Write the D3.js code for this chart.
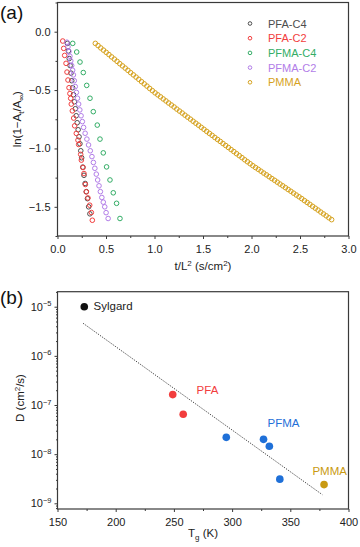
<!DOCTYPE html>
<html>
<head>
<meta charset="utf-8">
<script src="https://cdn.jsdelivr.net/npm/d3@7/dist/d3.min.js"></script>
<style>
  body { margin: 0; background: #fff; }
  svg text { font-family: "Liberation Sans", Arial, sans-serif; }
</style>
</head>
<body>
<svg id="chart" width="360" height="547"></svg>
<script>
// ---- panel (a) data: ln(1 - At/Ainf) vs t/L^2 ----
var pfaC4T = [0.102,0.112,0.121,0.130,0.139,0.147,0.156,0.165,0.175,0.184,0.193,0.203,0.213,0.222,0.231,0.240,0.249,0.261,0.273,0.285,0.297,0.309,0.321,0.334];
var pfaC4Y = [-0.10,-0.165,-0.23,-0.29,-0.355,-0.42,-0.48,-0.54,-0.60,-0.66,-0.72,-0.78,-0.84,-0.90,-0.96,-1.02,-1.08,-1.16,-1.23,-1.30,-1.37,-1.43,-1.50,-1.56];

var pfaC2T = [0.054,0.064,0.074,0.088,0.098,0.108,0.119,0.128,0.136,0.142,0.153,0.167,0.177,0.194,0.211,0.218,0.239,0.246,0.263,0.273,0.287,0.297,0.314,0.332,0.349,0.359];
var pfaC2Y = [-0.08,-0.143,-0.203,-0.271,-0.346,-0.414,-0.48,-0.53,-0.571,-0.62,-0.678,-0.74,-0.806,-0.871,-0.929,-0.966,-1.051,-1.10,-1.163,-1.215,-1.309,-1.372,-1.424,-1.486,-1.549,-1.615];

var pfmaC4T = [0.157,0.198,0.232,0.266,0.301,0.335,0.369,0.410,0.438,0.472,0.506,0.541,0.575,0.609,0.644];
var pfmaC4Y = [-0.10,-0.174,-0.26,-0.35,-0.46,-0.57,-0.685,-0.80,-0.92,-1.038,-1.158,-1.27,-1.38,-1.47,-1.60];

var pfmaC2T = [0.097,0.108,0.118,0.128,0.137,0.146,0.156,0.164,0.173,0.183,0.195,0.206,0.218,0.230,0.243,0.256,0.269,0.285,0.303,0.320,0.338,0.355,0.370,0.385,0.400,0.414,0.428,0.442,0.457,0.472,0.487,0.501,0.522];
var pfmaC2Y = [-0.09,-0.13,-0.17,-0.21,-0.25,-0.29,-0.33,-0.37,-0.42,-0.47,-0.52,-0.57,-0.62,-0.67,-0.72,-0.77,-0.82,-0.87,-0.92,-0.97,-1.02,-1.07,-1.12,-1.17,-1.22,-1.27,-1.32,-1.37,-1.42,-1.46,-1.50,-1.55,-1.60];

var pmmaT = [0.390,0.418,0.446,0.474,0.502,0.530,0.558,0.586,0.614,0.642,0.670,0.698,0.726,0.754,0.782,0.810,0.838,0.866,0.894,0.922,
  0.950,0.978,1.006,1.034,1.062,1.090,1.118,1.146,1.174,1.202,1.230,1.258,1.286,1.314,1.342,1.370,1.398,1.426,1.454,1.482,
  1.510,1.538,1.566,1.594,1.622,1.650,1.678,1.706,1.734,1.762,1.790,1.818,1.846,1.874,1.902,1.930,1.958,1.986,2.014,2.042,
  2.070,2.098,2.126,2.154,2.182,2.210,2.238,2.266,2.294,2.322,2.350,2.378,2.406,2.434,2.462,2.490,2.518,2.546,2.574,2.602,
  2.630,2.658,2.686,2.714,2.742,2.770,2.798,2.826];
var pmmaY = [-0.100,-0.119,-0.139,-0.158,-0.177,-0.196,-0.216,-0.235,-0.254,-0.274,-0.293,-0.312,-0.331,-0.351,-0.370,-0.389,-0.408,-0.428,-0.447,-0.466,
  -0.486,-0.505,-0.524,-0.541,-0.558,-0.576,-0.593,-0.611,-0.628,-0.645,-0.663,-0.680,-0.697,-0.715,-0.732,-0.749,-0.767,-0.784,-0.801,-0.819,
  -0.836,-0.854,-0.871,-0.888,-0.906,-0.923,-0.940,-0.958,-0.975,-0.992,-1.010,-1.027,-1.045,-1.062,-1.079,-1.097,-1.114,-1.131,-1.148,-1.164,
  -1.179,-1.195,-1.211,-1.226,-1.242,-1.258,-1.273,-1.289,-1.305,-1.320,-1.336,-1.352,-1.367,-1.383,-1.399,-1.414,-1.430,-1.447,-1.463,-1.479,
  -1.496,-1.512,-1.528,-1.545,-1.561,-1.577,-1.594,-1.610];

var seriesNames = ["PFA-C4", "PFA-C2", "PFMA-C4", "PFMA-C2", "PMMA"];
var seriesColors = ["#4d4d4d", "#f23d3d", "#33ad66", "#b27de8", "#d6a21e"];

var xTicksA = [0, 0.5, 1.0, 1.5, 2.0, 2.5, 3.0];
var xMinorA = [0.25, 0.75, 1.25, 1.75, 2.25, 2.75];
var yTicksA = [0, -0.5, -1.0, -1.5];
var yMinorA = [0.25, -0.25, -0.75, -1.25, -1.75];

// ---- panel (b) data: D vs Tg ----
var groupNames = ["Sylgard", "PFA", "PFMA", "PMMA"];
var groupColors = ["#111111", "#f23d3d", "#1f70d8", "#c99a12"];
var pointGroup = [0, 1, 1, 2, 2, 2, 2, 3];
var pointTg = [173, 249, 258, 295, 327, 332, 341, 379];
var pointD = [1.0e-5, 1.63e-7, 6.5e-8, 2.2e-8, 2.0e-8, 1.45e-8, 3.1e-9, 2.4e-9];
var labelTg = [181, 269.5, 330.5, 369];
var labelD = [8.6e-6, 1.7e-7, 3.56e-8, 3.72e-9];
var fitTg = [172, 377.5];
var fitD = [4.6e-6, 1.5e-9];

var xTicksB = [150, 200, 250, 300, 350, 400];
var xMinorB = [175, 225, 275, 325, 375];
var yExpB = [-9, -8, -7, -6, -5];

var svg = d3.select("#chart");
var axisColor = "#3a3a3a";

function styleAxis(g) {
  g.select(".domain").remove();
  g.selectAll("line").attr("stroke", axisColor).attr("stroke-width", 1);
  g.selectAll("text").attr("fill", "#222").attr("font-size", 11)
    .style("font-family", "'Liberation Sans', Arial, sans-serif");
}

// ================= panel (a) =================
var xA = d3.scaleLinear().domain([0, 3]).range([57.5, 348.5]);
var yA = d3.scaleLinear().domain([-1.75, 0.25]).range([236, 2.5]);

var gA = svg.append("g");

gA.append("g")
    .attr("transform", "translate(0," + yA.range()[0] + ")")
    .call(d3.axisBottom(xA).tickValues(xTicksA).tickSize(3).tickPadding(6)
      .tickFormat(d3.format(".1f")))
    .call(styleAxis);
gA.append("g")
    .attr("transform", "translate(0," + yA.range()[0] + ")")
    .call(d3.axisBottom(xA).tickValues(xMinorA).tickSize(2).tickFormat(""))
    .call(styleAxis);
gA.append("g")
    .attr("transform", "translate(" + xA.range()[0] + ",0)")
    .call(d3.axisLeft(yA).tickValues(yTicksA).tickSize(3).tickPadding(4)
      .tickFormat(d3.format(".1f")))
    .call(styleAxis);
gA.append("g")
    .attr("transform", "translate(" + xA.range()[0] + ",0)")
    .call(d3.axisLeft(yA).tickValues(yMinorA).tickSize(2).tickFormat(""))
    .call(styleAxis);

gA.append("rect")
    .attr("x", xA.range()[0]).attr("y", yA.range()[1])
    .attr("width", xA.range()[1] - xA.range()[0])
    .attr("height", yA.range()[0] - yA.range()[1])
    .attr("fill", "none").attr("stroke", axisColor).attr("stroke-width", 1.2);

var seriesT = [pfaC4T, pfaC2T, pfmaC4T, pfmaC2T, pmmaT];
var seriesY = [pfaC4Y, pfaC2Y, pfmaC4Y, pfmaC2Y, pmmaY];

seriesT.forEach(function(ts, si) {
  gA.append("g")
    .selectAll("circle")
    .data(ts.map(function(t, i) { return [t, seriesY[si][i]]; }))
    .enter().append("circle")
      .attr("cx", function(d) { return xA(d[0]); })
      .attr("cy", function(d) { return yA(d[1]); })
      .attr("r", 2.3)
      .attr("fill", "none")
      .attr("stroke", seriesColors[si])
      .attr("stroke-width", 1);
});

// legend
var leg = gA.append("g").attr("transform", "translate(250,23.5)");
leg.selectAll("g")
  .data(seriesNames)
  .enter().append("g")
    .attr("transform", function(d, i) { return "translate(0," + (i * 14.7) + ")"; })
    .each(function(d, i) {
      var row = d3.select(this);
      row.append("circle").attr("r", 1.8).attr("fill", "none")
        .attr("stroke", seriesColors[i]).attr("stroke-width", 1);
      row.append("text").attr("x", 18).attr("y", 4).attr("font-size", 11)
        .attr("fill", seriesColors[i]).text(d);
    });

// titles
var yTitleA = gA.append("text")
    .attr("transform", "translate(21," + ((yA.range()[0] + yA.range()[1]) / 2) + ") rotate(-90)")
    .attr("text-anchor", "middle").attr("font-size", 11.5).attr("fill", "#222");
yTitleA.append("tspan").text("ln(1\u2212A");
yTitleA.append("tspan").attr("font-size", 8).attr("dy", 3).text("t");
yTitleA.append("tspan").attr("dy", -3).text("/A");
yTitleA.append("tspan").attr("font-size", 8).attr("dy", 3).text("\u221E");
yTitleA.append("tspan").attr("dy", -3).text(")");

var xTitleA = gA.append("text")
    .attr("x", (xA.range()[0] + xA.range()[1]) / 2).attr("y", 270)
    .attr("text-anchor", "middle").attr("font-size", 11.5).attr("fill", "#222");
xTitleA.append("tspan").text("t/L");
xTitleA.append("tspan").attr("font-size", 8).attr("dy", -4.5).text("2");
xTitleA.append("tspan").attr("dy", 4.5).text(" (s/cm");
xTitleA.append("tspan").attr("font-size", 8).attr("dy", -4.5).text("2");
xTitleA.append("tspan").attr("dy", 4.5).text(")");

svg.append("text").attr("x", 0).attr("y", 19).attr("font-size", 19)
  .attr("fill", "#111").text("(a)");

// ================= panel (b) =================
var xB = d3.scaleLinear().domain([150, 400]).range([57.5, 348.5]);
var yB = d3.scaleLog().domain([7.66e-10, 2.02e-5]).range([509, 291.7]);

var gB = svg.append("g");

gB.append("g")
    .attr("transform", "translate(0," + yB.range()[0] + ")")
    .call(d3.axisBottom(xB).tickValues(xTicksB).tickSize(3).tickPadding(6)
      .tickFormat(d3.format("d")))
    .call(styleAxis);
gB.append("g")
    .attr("transform", "translate(0," + yB.range()[0] + ")")
    .call(d3.axisBottom(xB).tickValues(xMinorB).tickSize(2).tickFormat(""))
    .call(styleAxis);

var yMajorB = yExpB.map(function(e) { return Math.pow(10, e); });
var yMinorB = [];
[-10, -9, -8, -7, -6, -5].forEach(function(e) {
  [2, 3, 4, 5, 6, 7, 8, 9].forEach(function(m) {
    var v = m * Math.pow(10, e);
    if (v > yB.domain()[0] && v < yB.domain()[1]) yMinorB.push(v);
  });
});

gB.append("g")
    .attr("transform", "translate(" + xB.range()[0] + ",0)")
    .call(d3.axisLeft(yB).tickValues(yMajorB).tickSize(3).tickFormat(""))
    .call(styleAxis);
gB.append("g")
    .attr("transform", "translate(" + xB.range()[0] + ",0)")
    .call(d3.axisLeft(yB).tickValues(yMinorB).tickSize(1.5).tickFormat(""))
    .call(styleAxis);

var yLabB = gB.append("g").selectAll("text")
  .data(yExpB)
  .enter().append("text")
    .attr("x", xB.range()[0] - 6)
    .attr("y", function(e) { return yB(Math.pow(10, e)) + 4; })
    .attr("text-anchor", "end").attr("font-size", 11).attr("fill", "#222");
yLabB.append("tspan").text("10");
yLabB.append("tspan").attr("font-size", 7.5).attr("dy", -4.5)
  .text(function(e) { return "\u2212" + Math.abs(e); });

gB.append("rect")
    .attr("x", xB.range()[0]).attr("y", yB.range()[1])
    .attr("width", xB.range()[1] - xB.range()[0])
    .attr("height", yB.range()[0] - yB.range()[1])
    .attr("fill", "none").attr("stroke", axisColor).attr("stroke-width", 1.2);

// fit line
gB.append("line")
    .attr("x1", xB(fitTg[0])).attr("y1", yB(fitD[0]))
    .attr("x2", xB(fitTg[1])).attr("y2", yB(fitD[1]))
    .attr("stroke", "#333").attr("stroke-width", 0.9)
    .attr("stroke-dasharray", "1.3,1.3");

gB.append("g").selectAll("circle")
  .data(pointTg.map(function(t, i) { return [t, pointD[i], pointGroup[i]]; }))
  .enter().append("circle")
    .attr("cx", function(d) { return xB(d[0]); })
    .attr("cy", function(d) { return yB(d[1]); })
    .attr("r", 3.8)
    .attr("fill", function(d) { return groupColors[d[2]]; });

gB.append("g").selectAll("text")
  .data(groupNames)
  .enter().append("text")
    .attr("x", function(d, i) { return xB(labelTg[i]); })
    .attr("y", function(d, i) { return yB(labelD[i]); })
    .attr("font-size", 11.5)
    .attr("fill", function(d, i) { return i === 0 ? "#222" : groupColors[i]; })
    .text(function(d) { return d; });

var yTitleB = gB.append("text")
    .attr("transform", "translate(24,398) rotate(-90)")
    .attr("text-anchor", "middle").attr("font-size", 11.5).attr("fill", "#222");
yTitleB.append("tspan").text("D (cm");
yTitleB.append("tspan").attr("font-size", 8).attr("dy", -4.5).text("2");
yTitleB.append("tspan").attr("dy", 4.5).text("/s)");

var xTitleB = gB.append("text")
    .attr("x", (xB.range()[0] + xB.range()[1]) / 2).attr("y", 537)
    .attr("text-anchor", "middle").attr("font-size", 11.5).attr("fill", "#222");
xTitleB.append("tspan").text("T");
xTitleB.append("tspan").attr("font-size", 8).attr("dy", 3).text("g");
xTitleB.append("tspan").attr("dy", -3).text(" (K)");

svg.append("text").attr("x", 0).attr("y", 304).attr("font-size", 19)
  .attr("fill", "#111").text("(b)");
</script>
</body>
</html>
